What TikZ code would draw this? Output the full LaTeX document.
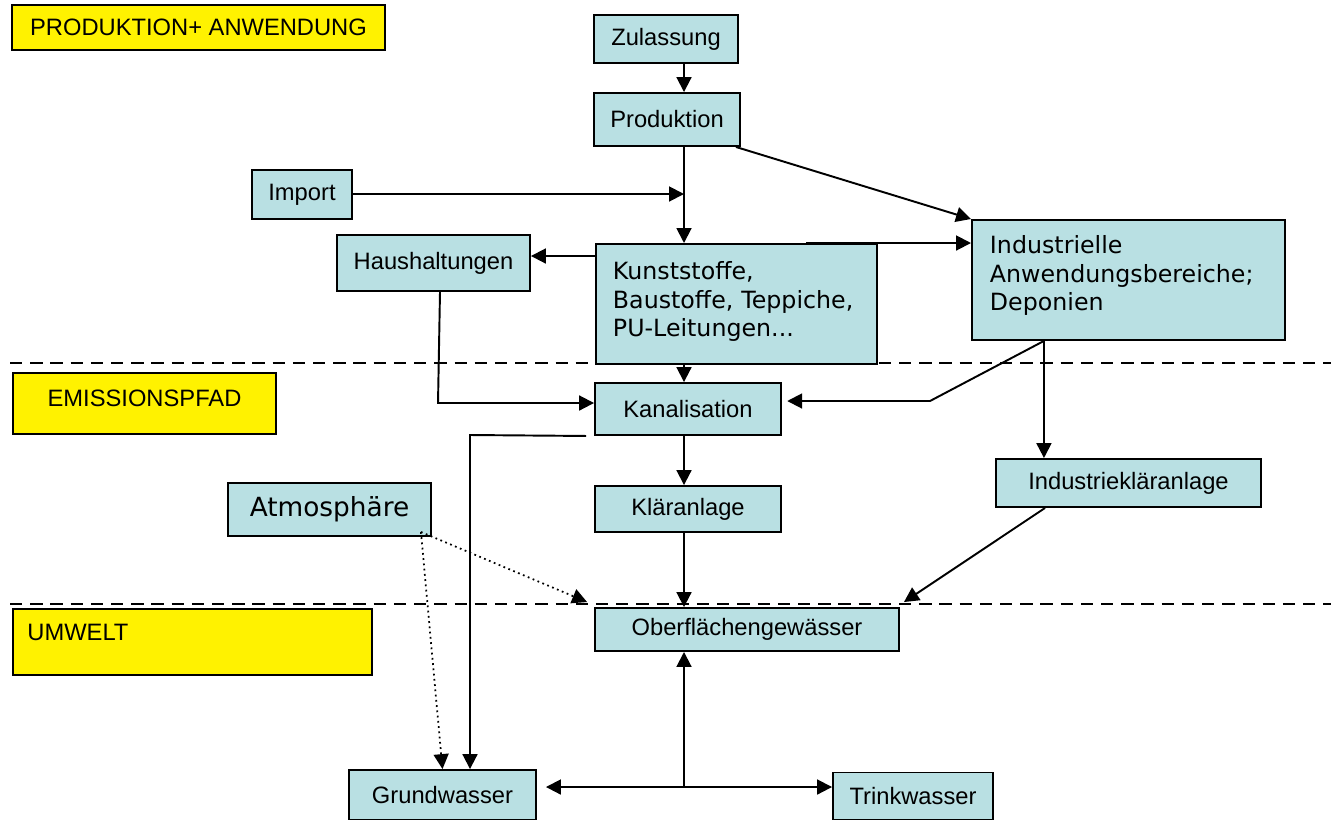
\documentclass[tikz,border=0pt]{standalone}
\usepackage{fontspec}
\setmainfont{Liberation Sans}
\newfontfamily\verd{DejaVu Sans}
\usetikzlibrary{arrows.meta}
\definecolor{boxblue}{RGB}{185,224,227}
\tikzset{
  box/.style={draw, line width=1.1pt, fill=boxblue, inner sep=0pt, font=\fontsize{13.5}{16}\selectfont},
  ybox/.style={draw, line width=1.1pt, fill=yellow, inner sep=0pt, font=\fontsize{13.5}{16}\selectfont},
  wbox/.style={box, align=left, font=\verd\fontsize{13.5}{16.4}\selectfont},
  flow/.style={->, line width=1.1pt},
  air/.style={->, line width=1pt, dotted},
  zone/.style={line width=1.5pt, dash pattern=on 7pt off 4.5pt}
}

\begin{document}
\begin{tikzpicture}[x=0.02cm, y=-0.02cm, >={Triangle[length=8.5pt,width=8.5pt]}]
\useasboundingbox (0,0) rectangle (1331,819);
% Bereiche
\draw[zone] (10,363) -- (1331,363);
\draw[zone] (10,604) -- (1331,604);
\coordinate (axis) at (684,0);

\node[ybox, minimum width=7.46cm, minimum height=0.9cm] (lprod) at (198.5,27.5) {PRODUKTION+ ANWENDUNG};
\node[ybox, minimum width=5.26cm, minimum height=1.22cm, align=center] (lemis) at (144.5,403.5) {EMISSIONSPFAD\\[-0.34cm]\mbox{}};
\node[ybox, minimum width=7.18cm, minimum height=1.32cm,
  label={[name=lumwelttext, anchor=north west, inner sep=0pt, xshift=0.3cm, yshift=-0.32cm, font=\fontsize{13.5}{16}\selectfont]north west:UMWELT}] (lumwelt) at (192.5,642) {};

% Produktion + Anwendung
\node[box, minimum width=2.88cm, minimum height=0.96cm] (zul) at (666,39) {Zulassung};
\node[box, minimum width=2.92cm, minimum height=1.06cm] (prod) at (667,119.5) {Produktion};
\node[box, minimum width=2cm, minimum height=0.98cm] (imp) at (302,194.5) {Import};
\node[box, minimum width=3.86cm, minimum height=1.12cm] (haus) at (433.5,263) {Haushaltungen};
\node[wbox, anchor=north west, inner xsep=0.34cm, minimum width=5.62cm, minimum height=2.4cm, text width=4.94cm] (kunst) at (595,243) {Kunststoffe,\\Baustoffe, Teppiche,\\PU-Leitungen...\\[-0.38cm]\mbox{}};
\node[wbox, anchor=north west, inner xsep=0.36cm, minimum width=6.26cm, minimum height=2.4cm, text width=5.54cm] (ind) at (971,219) {Industrielle\\Anwendungsbereiche;\\Deponien\\[-0.3cm]\mbox{}};

% Emissionspfad
\node[box, minimum width=3.72cm, minimum height=1.04cm] (kanal) at (688,409) {Kanalisation};
\node[box, minimum width=5.3cm, minimum height=0.96cm] (indk) at (1128.5,483) {Industriekläranlage};
\node[box, minimum width=4.06cm, minimum height=1.06cm, font=\verd\fontsize{15}{18}\selectfont] (atm) at (329.5,509.5) {Atmosphäre};
\node[box, minimum width=3.72cm, minimum height=0.92cm] (klaer) at (688,509) {Kläranlage};

% Umwelt
\node[box, minimum width=6.08cm, minimum height=0.86cm] (ober) at (747,629.5) {Oberflächengewässer};
\node[box, minimum width=3.74cm, minimum height=1cm] (grund) at (442.5,795) {Grundwasser};
\node[box, minimum width=3.2cm, minimum height=0.94cm] (trink) at (913,796) {Trinkwasser};

% Pfade
\draw[flow] (zul.south -| axis) -- (prod.north -| axis);
\draw[flow] (prod.south -| axis) -- (kunst.north -| axis);
\coordinate (ij) at (352,194);
\draw[flow] (ij) -- (ij -| axis);
\draw[flow] ([xshift=-0.1cm]prod.south east) -- (ind.north west);
\draw[flow] ([xshift=1.4cm]kunst.north) -- (kunst.north -| ind.west);
\coordinate (kh) at ([yshift=-0.26cm]kunst.north west);
\draw[flow] (kh) -- (kh -| haus.east);
\coordinate (hk) at (438,403);
\draw[flow] ([xshift=0.13cm]haus.south) -- (hk) -- (hk -| kanal.west);
\draw[flow] (kunst.south -| axis) -- (kanal.north -| axis);
\coordinate (ia) at ([xshift=-1.69cm]ind.south);
\coordinate (ik) at (930,401);
\draw[flow, shorten >=3pt] (ia) -- (ik) -- (ik -| kanal.east);
\draw[flow] (ia) -- (ia |- indk.north);
\coordinate (kg) at (470,435);
\draw[flow] ([xshift=-0.16cm]kanal.south west) -- (kg) -- (kg |- grund.north);
\draw[flow] (kanal.south -| axis) -- (klaer.north -| axis);
\draw[flow] (klaer.south -| axis) -- (ober.north -| axis);
\coordinate (ko) at ([xshift=-1.67cm]indk.south);
\draw[flow] (ko) -- ([xshift=0.08cm,yshift=0.1cm]ober.north east);
\coordinate (aa) at ([xshift=-0.22cm,yshift=0.1cm]atm.south east);
\draw[air] (aa) -- ([xshift=-0.14cm,yshift=0.1cm]ober.north west);
\draw[air] (aa) -- (grund.north);
\coordinate (gt) at (684,787);
\draw[flow, <->, shorten <=0.18cm] (gt -| grund.east) -- (gt -| trink.west);
\draw[flow] (gt) -- (ober.south -| axis);
\end{tikzpicture}
\end{document}
